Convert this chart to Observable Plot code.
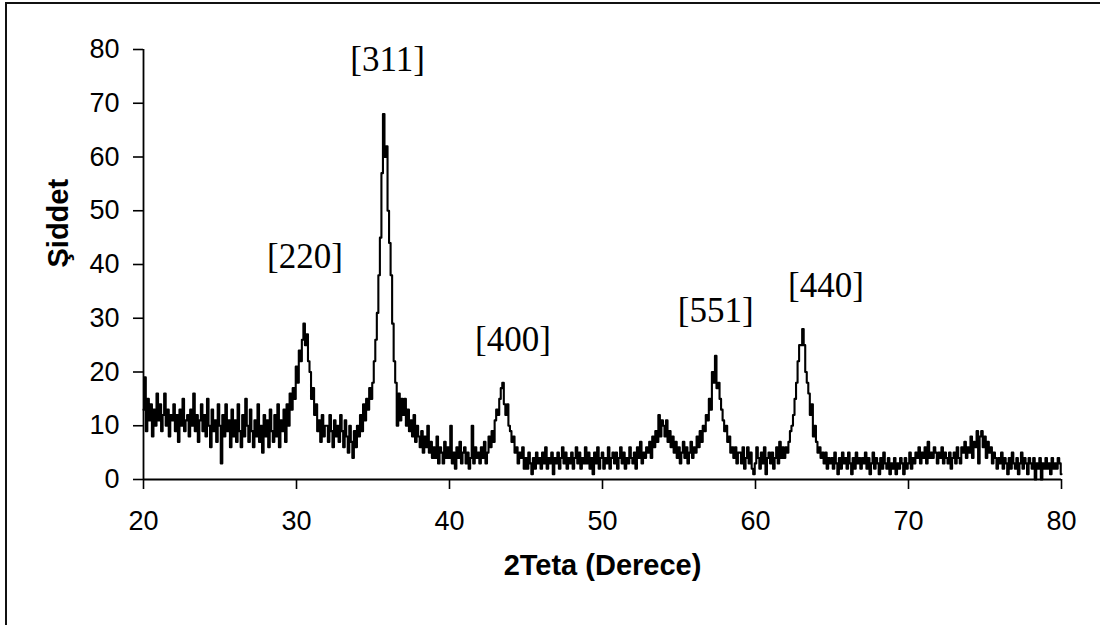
<!DOCTYPE html>
<html>
<head>
<meta charset="utf-8">
<script src="https://cdn.jsdelivr.net/npm/d3@7"></script>
<script src="https://cdn.jsdelivr.net/npm/@observablehq/plot@0.6"></script>
<style>
  html, body { margin: 0; padding: 0; background: #fff; }
  #wrap { position: relative; width: 1100px; height: 625px; overflow: hidden; }
  #border { position: absolute; left: 5px; top: 2px; width: 1093px; height: 700px;
            border-left: 2px solid #111; border-top: 2px solid #111; border-right: 1px solid #ccc; pointer-events: none; }
</style>
</head>
<body>
<div id="wrap"><div id="border"></div></div>
<script>
// 2θ grid: start and step of the measured pattern (degrees)
const angleStart = 20;
const angleStep = 0.1;

// Intensity, one row per degree (x.0 … x.9), last value at 80.0
const intensity = [
  13, 19, 9, 15, 11, 14, 8, 13, 10, 16,   // 20
  11, 14, 9, 12, 16, 10, 13, 8, 12, 11,   // 21
  14, 9, 12, 7, 13, 10, 15, 9, 11, 12,    // 22
  8, 13, 10, 16, 9, 12, 7, 11, 14, 9,     // 23
  12, 8, 15, 10, 6, 13, 9, 11, 7, 14,     // 24
  10, 3, 12, 8, 14, 9, 11, 6, 13, 8,      // 25
  11, 7, 14, 9, 6, 12, 8, 15, 10, 7,      // 26
  13, 9, 6, 11, 8, 14, 7, 10, 5, 12,      // 27
  8, 11, 6, 13, 9, 7, 12, 8, 14, 6,       // 28
  11, 9, 13, 7, 14, 10, 16, 13, 17, 15,   // 29
  21, 18, 24, 22, 26, 29, 25, 27, 22, 20, // 30
  15, 17, 12, 14, 9, 11, 7, 12, 8, 10,    // 31
  10, 7, 12, 9, 6, 11, 8, 10, 7, 12,      // 32
  9, 6, 11, 8, 5, 10, 7, 4, 9, 6,         // 33
  10, 8, 12, 9, 14, 11, 15, 13, 17, 15,   // 34
  18, 22, 26, 31, 38, 45, 57, 68, 60, 62, // 35
  50, 44, 38, 29, 22, 18, 10, 16, 11, 15, // 36
  12, 15, 10, 13, 9, 11, 8, 12, 7, 10,    // 37
  8, 6, 9, 5, 8, 6, 10, 5, 7, 4,          // 38
  6, 4, 8, 3, 6, 5, 3, 7, 4, 6,           // 39
  4, 10, 3, 5, 2, 6, 4, 7, 3, 5,          // 40
  6, 3, 5, 2, 4, 10, 3, 6, 4, 5,          // 41
  3, 6, 4, 7, 3, 5, 8, 6, 9, 7,           // 42
  11, 13, 12, 15, 17, 18, 14, 12, 14, 10, // 43
  9, 7, 8, 5, 6, 3, 5, 4, 6, 2,           // 44
  4, 2, 5, 3, 1, 4, 2, 5, 3, 4,           // 45
  2, 5, 3, 6, 2, 4, 3, 5, 1, 4,           // 46
  3, 5, 2, 4, 6, 3, 5, 2, 4, 3,           // 47
  5, 2, 4, 6, 3, 5, 2, 4, 3, 6,           // 48
  3, 5, 2, 4, 1, 5, 3, 6, 2, 4,           // 49
  5, 2, 4, 3, 6, 2, 4, 5, 3, 5,           // 50
  2, 4, 6, 3, 5, 2, 4, 3, 6, 4,           // 51
  3, 5, 2, 6, 4, 7, 3, 5, 4, 6,           // 52
  5, 7, 4, 8, 6, 9, 7, 12, 8, 11,         // 53
  10, 8, 11, 7, 9, 6, 8, 5, 7, 4,         // 54
  6, 3, 5, 7, 4, 6, 3, 5, 7, 4,           // 55
  6, 5, 8, 6, 9, 7, 10, 9, 12, 11,        // 56
  15, 13, 20, 18, 23, 17, 18, 15, 13, 11, // 57
  9, 10, 7, 8, 5, 6, 4, 6, 3, 5,          // 58
  5, 3, 6, 2, 4, 6, 3, 5, 2, 1,           // 59
  3, 6, 4, 2, 5, 3, 6, 1, 4, 5,           // 60
  3, 5, 2, 4, 6, 3, 7, 4, 6, 4,           // 61
  6, 5, 7, 9, 10, 12, 15, 18, 22, 25,     // 62
  25, 28, 25, 20, 18, 16, 12, 14, 8, 10,  // 63
  7, 5, 6, 4, 5, 3, 5, 2, 4, 3,           // 64
  4, 2, 5, 3, 1, 4, 2, 5, 3, 4,           // 65
  2, 5, 3, 1, 4, 2, 5, 3, 4, 2,           // 66
  4, 3, 5, 2, 4, 1, 3, 5, 2, 4,           // 67
  3, 1, 4, 2, 5, 3, 2, 4, 1, 3,           // 68
  2, 4, 1, 3, 2, 4, 3, 1, 4, 2,           // 69
  3, 5, 2, 4, 3, 5, 4, 6, 3, 5,           // 70
  4, 6, 3, 7, 4, 5, 4, 6, 5, 3,           // 71
  5, 4, 6, 3, 5, 4, 3, 5, 2, 4,           // 72
  5, 3, 6, 4, 3, 6, 5, 7, 4, 6,           // 73
  5, 8, 4, 7, 6, 9, 3, 8, 9, 6,           // 74
  8, 4, 7, 5, 6, 3, 5, 4, 2, 4,           // 75
  3, 5, 2, 4, 3, 1, 4, 2, 5, 3,           // 76
  2, 4, 1, 3, 5, 2, 4, 3, 1, 4,           // 77
  3, 2, 4, 0, 3, 2, 4, 0, 3, 2,           // 78
  4, 2, 3, 1, 4, 2, 3, 2, 4, 3,           // 79
  1                                       // 80
];

// Peak annotations (Miller indices) and where they sit, in data units
const peakLabels = ["[220]", "[311]", "[400]", "[551]", "[440]"];
const labelAngle = [30.55, 35.95, 44.15, 57.4, 64.6];
const labelIntensity = [41.5, 78, 26, 31.4, 36];

// Axis ticks
const xTicks = [20, 30, 40, 50, 60, 70, 80];
const yTicks = [0, 10, 20, 30, 40, 50, 60, 70, 80];

const xTitle = "2Teta (Derece)";
const yTitle = "Şiddet";

const data = intensity.map((v, i) => ({ angle: +(angleStart + i * angleStep).toFixed(1), value: v }));

const chart = Plot.plot({
  width: 1100,
  height: 625,
  marginLeft: 143,
  marginRight: 39,
  marginTop: 49,
  marginBottom: 146,
  style: { fontFamily: "'Liberation Sans', Arial, sans-serif", color: "#000", background: "transparent", overflow: "visible" },
  x: { domain: [20, 80] },
  y: { domain: [0, 80] },
  marks: [
    Plot.axisX(xTicks, { tickSize: 10, tickPadding: 21, label: null, fontSize: 27, strokeWidth: 1.6 }),
    Plot.axisY(yTicks, { tickSize: 10, tickPadding: 14, label: null, fontSize: 27, strokeWidth: 1.6 }),
    Plot.ruleY([0], { strokeWidth: 1.8 }),
    Plot.ruleX([20], { strokeWidth: 1.8 }),
    Plot.line(data, { x: "angle", y: "value", curve: "step", stroke: "#000", strokeWidth: 2.1 }),
    Plot.text(peakLabels, {
      x: (d, i) => labelAngle[i],
      y: (d, i) => labelIntensity[i],
      text: d => d,
      fontFamily: "'Liberation Serif', 'Times New Roman', serif",
      fontSize: 35,
      fill: "#000"
    }),
    Plot.text([xTitle], { frameAnchor: "bottom", dy: 95, text: d => d, fontWeight: "bold", fontSize: 29, fill: "#000" }),
    Plot.text([yTitle], { frameAnchor: "left", dx: -85, dy: 3, rotate: -90, text: d => d, fontWeight: "bold", fontSize: 29, fill: "#000" })
  ]
});

document.getElementById("wrap").prepend(chart);
</script>
</body>
</html>
